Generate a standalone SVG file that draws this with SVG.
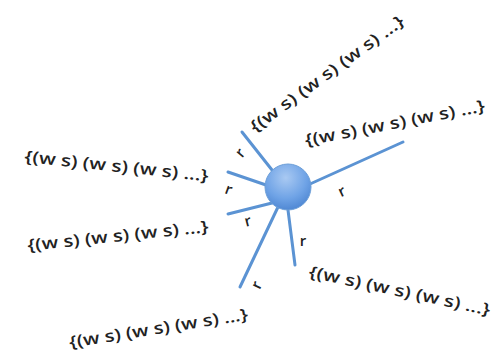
<svg xmlns="http://www.w3.org/2000/svg" width="495" height="360" viewBox="0 0 495 360">
<defs>
<radialGradient id="g" cx="0.45" cy="0.3" r="0.75">
<stop offset="0" stop-color="#a9c9f2"/>
<stop offset="0.6" stop-color="#6fa3e6"/>
<stop offset="1" stop-color="#4a83d0"/>
</radialGradient>
<style>
.l{stroke:#5b93d3;stroke-width:3;stroke-linecap:round;fill:none}
.t{font-family:"Open Sans","Liberation Sans",sans-serif;font-weight:600;font-size:16.5px;fill:#222}
.r{font-family:"Open Sans","Liberation Sans",sans-serif;font-weight:600;font-size:15px;fill:#222;text-anchor:middle}
</style>
</defs>
<rect width="495" height="360" fill="#fff"/>
<g id="connectors">
<line class="l" x1="310" y1="184" x2="403" y2="142"/>
<line class="l" x1="272" y1="170" x2="242" y2="132"/>
<line class="l" x1="266" y1="185" x2="228" y2="172"/>
<line class="l" x1="272" y1="203" x2="228" y2="214"/>
<line class="l" x1="278" y1="207" x2="240" y2="287"/>
<line class="l" x1="288" y1="210" x2="295" y2="265"/>
<text class="r" transform="translate(244,156) rotate(-50)">r</text>
<text class="r" transform="translate(227,194) rotate(20)">r</text>
<text class="r" transform="translate(249,226) rotate(-15)">r</text>
<text class="r" transform="translate(261,287) rotate(-65)">r</text>
<text class="r" transform="translate(303,246) rotate(0)">r</text>
<text class="r" transform="translate(344,196) rotate(-25)">r</text>
</g>
<g id="hub">
<circle cx="288" cy="187" r="23" fill="url(#g)" stroke="#6d9fd8" stroke-width="1"/>
</g>
<g id="set1"><text class="t" transform="translate(255,133) rotate(-36)" textLength="186" lengthAdjust="spacingAndGlyphs">{(w s) (w s) (w s) ...}</text></g>
<g id="set2"><text class="t" transform="translate(306,146) rotate(-11)" textLength="183" lengthAdjust="spacingAndGlyphs">{(w s) (w s) (w s) ...}</text></g>
<g id="set3"><text class="t" transform="translate(24,162) rotate(6)" textLength="185" lengthAdjust="spacingAndGlyphs">{(w s) (w s) (w s) ...}</text></g>
<g id="set4"><text class="t" transform="translate(28,251) rotate(-6)" textLength="182" lengthAdjust="spacingAndGlyphs">{(w s) (w s) (w s) ...}</text></g>
<g id="set5"><text class="t" transform="translate(70,348) rotate(-9)" textLength="181" lengthAdjust="spacingAndGlyphs">{(w s) (w s) (w s) ...}</text></g>
<g id="set6"><text class="t" transform="translate(308,277) rotate(12)" textLength="185" lengthAdjust="spacingAndGlyphs">{(w s) (w s) (w s) ...}</text></g>
</svg>
